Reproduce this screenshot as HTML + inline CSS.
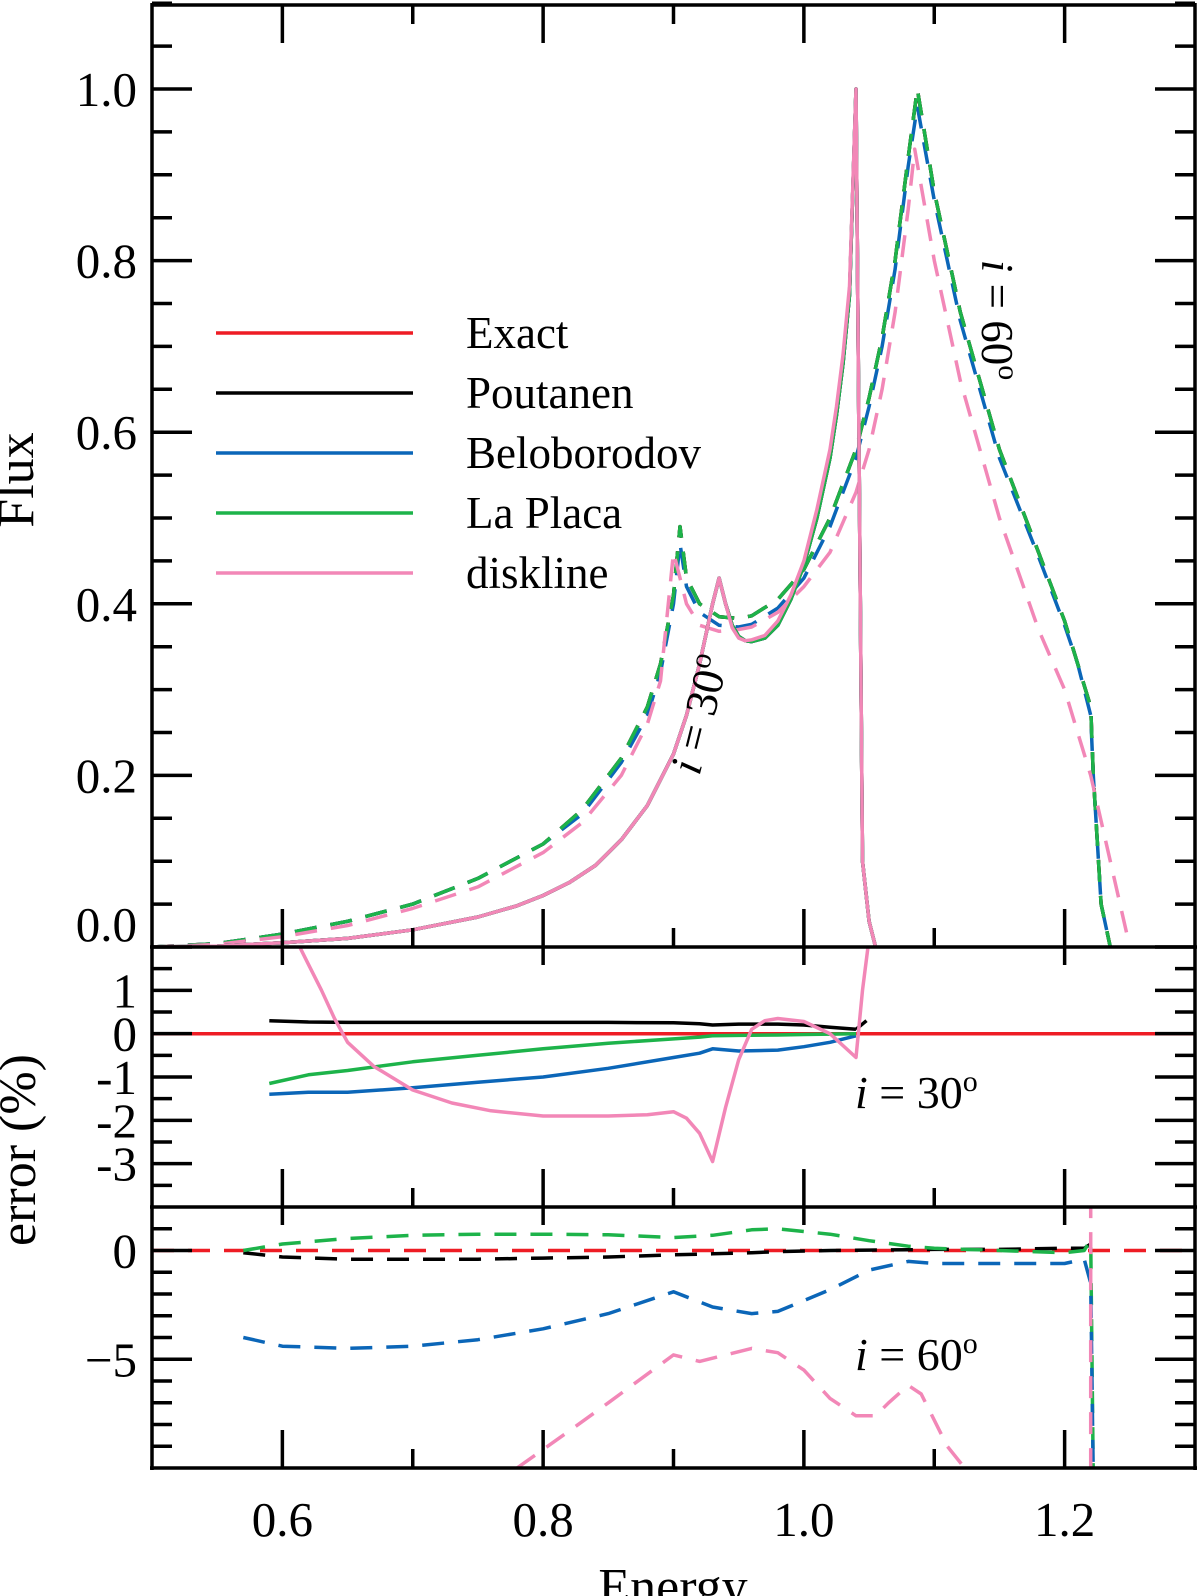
<!DOCTYPE html>
<html><head><meta charset="utf-8"><style>
html,body{margin:0;padding:0;background:#fff;}
svg{display:block;font-family:"Liberation Serif",serif;}
</style></head><body>
<svg id="chart" width="1200" height="1596" viewBox="0 0 1200 1596" xmlns="http://www.w3.org/2000/svg">
<defs>
<clipPath id="c1"><rect x="152" y="5" width="1043" height="942"/></clipPath>
<clipPath id="c2"><rect x="152" y="947" width="1043" height="260"/></clipPath>
<clipPath id="c3"><rect x="152" y="1207" width="1043" height="261"/></clipPath>
</defs>
<g id="marks"></g>
<g id="axes" stroke="#000" stroke-width="3.5" fill="none"></g>
<g id="labels" font-size="49" fill="#000"></g>
<text transform="translate(33,480) rotate(-90)" font-size="52" text-anchor="middle">Flux</text>
<text transform="translate(35,1150) rotate(-90)" font-size="52" text-anchor="middle">error (%)</text>
<text x="673" y="1604" font-size="52" text-anchor="middle">Energy</text>
<g font-size="45">
<line x1="216" y1="333" x2="413" y2="333" stroke="#ee1c24" stroke-width="3.5"/>
<text x="466" y="348">Exact</text>
<line x1="216" y1="393" x2="413" y2="393" stroke="#000" stroke-width="3.5"/>
<text x="466" y="408">Poutanen</text>
<line x1="216" y1="453" x2="413" y2="453" stroke="#0b66b8" stroke-width="3.5"/>
<text x="466" y="468">Beloborodov</text>
<line x1="216" y1="513" x2="413" y2="513" stroke="#1db34a" stroke-width="3.5"/>
<text x="466" y="528">La Placa</text>
<line x1="216" y1="573" x2="413" y2="573" stroke="#f287b7" stroke-width="3.5"/>
<text x="466" y="588">diskline</text>
</g>
<text transform="translate(714,718) rotate(-76)" font-size="45" text-anchor="middle"><tspan font-style="italic">i</tspan> = 30<tspan font-size="30" dy="-17">o</tspan></text>
<text transform="translate(982,320) rotate(90)" font-size="45" text-anchor="middle"><tspan font-style="italic">i</tspan> = 60<tspan font-size="30" dy="-17">o</tspan></text>
<text x="855" y="1108" font-size="46"><tspan font-style="italic">i</tspan> = 30<tspan font-size="30" dy="-17">o</tspan></text>
<text x="855" y="1370" font-size="46"><tspan font-style="italic">i</tspan> = 60<tspan font-size="30" dy="-17">o</tspan></text>
</svg>
<script>
// ---- data ----
const xTicks = [0.6, 0.8, 1.0, 1.2];
const fluxTicks = [0.0, 0.2, 0.4, 0.6, 0.8, 1.0];
const err30Ticks = [1, 0, -1, -2, -3];
const err60Ticks = [0, -5];
// top panel, i=30 (solid)
const f30E = [0.5,0.55,0.6,0.65,0.7,0.75,0.78,0.8,0.82,0.84,0.86,0.88,0.9,0.91,0.92,0.93,0.935,0.94,0.945,0.95,0.955,0.96,0.97,0.98,0.99,1.0,1.01,1.02,1.025,1.03,1.035,1.04,1.045,1.05,1.055];
const f30Exact = [0,0.001,0.005,0.01,0.02,0.035,0.048,0.06,0.075,0.095,0.125,0.165,0.225,0.27,0.33,0.4,0.43,0.4,0.375,0.362,0.357,0.356,0.36,0.375,0.405,0.445,0.5,0.57,0.62,0.68,0.76,1.0,0.1,0.03,0];
const f30Disk = [0,0.001,0.005,0.01,0.02,0.035,0.048,0.06,0.075,0.095,0.125,0.165,0.225,0.27,0.33,0.4,0.43,0.4,0.372,0.36,0.357,0.358,0.363,0.38,0.41,0.45,0.51,0.58,0.63,0.69,0.77,1.0,0.1,0.03,0];
// top panel, i=60 (dashed)
const f60E = [0.5,0.55,0.6,0.65,0.7,0.75,0.8,0.83,0.86,0.88,0.89,0.9,0.905,0.91,0.92,0.935,0.95,0.96,0.98,1.0,1.02,1.04,1.05,1.06,1.07,1.08,1.087,1.1,1.12,1.15,1.18,1.2,1.21,1.22,1.222,1.228,1.235];
const f60Exact = [0,0.004,0.015,0.03,0.05,0.08,0.12,0.16,0.22,0.28,0.33,0.41,0.49,0.43,0.4,0.385,0.383,0.386,0.405,0.44,0.5,0.58,0.64,0.71,0.8,0.92,1.0,0.88,0.74,0.58,0.46,0.38,0.33,0.28,0.2,0.05,0];
const f60Blue = [0,0.004,0.015,0.03,0.05,0.08,0.12,0.155,0.215,0.27,0.32,0.4,0.47,0.42,0.39,0.375,0.373,0.376,0.395,0.43,0.49,0.57,0.63,0.7,0.79,0.91,0.98,0.87,0.73,0.57,0.455,0.375,0.33,0.27,0.2,0.05,0];
const f60DE = [0.5,0.55,0.6,0.65,0.7,0.75,0.8,0.83,0.86,0.88,0.89,0.9,0.91,0.92,0.935,0.95,0.96,0.98,1.0,1.02,1.04,1.05,1.06,1.07,1.08,1.085,1.1,1.12,1.15,1.18,1.2,1.22,1.235,1.25];
const f60Disk = [0,0.003,0.012,0.025,0.045,0.07,0.11,0.145,0.2,0.26,0.31,0.46,0.4,0.375,0.368,0.37,0.373,0.39,0.42,0.46,0.53,0.58,0.65,0.74,0.86,0.93,0.8,0.66,0.5,0.37,0.3,0.2,0.1,0];
// middle panel: error %, i=30
const e30E = [0.59,0.62,0.65,0.7,0.75,0.8,0.85,0.9,0.92,0.93,0.95,0.98,1.0,1.02,1.04];
const e30Pout = [0.3,0.27,0.26,0.26,0.26,0.26,0.26,0.25,0.23,0.2,0.22,0.22,0.2,0.15,0.1];
const e30Belo = [-1.4,-1.35,-1.35,-1.25,-1.12,-1.0,-0.8,-0.55,-0.45,-0.35,-0.4,-0.38,-0.3,-0.2,-0.05];
const e30Lapl = [-1.15,-0.95,-0.85,-0.65,-0.5,-0.35,-0.22,-0.12,-0.08,-0.05,-0.04,-0.03,-0.02,-0.01,0];
const e30DE = [0.61,0.62,0.63,0.64,0.65,0.67,0.7,0.73,0.76,0.8,0.85,0.88,0.9,0.91,0.92,0.93,0.94,0.95,0.96,0.97,0.98,1.0,1.02,1.04,1.045,1.05];
const e30Disk = [2.2,1.6,1.0,0.35,-0.2,-0.75,-1.3,-1.6,-1.78,-1.9,-1.9,-1.87,-1.8,-1.95,-2.3,-2.95,-1.7,-0.6,0.1,0.3,0.35,0.28,0.0,-0.55,1.0,2.2];
const e30PoutTailE = [1.04,1.048];
const e30PoutTail = [0.1,0.3];
// bottom panel: error %, i=60
const e60E = [0.57,0.6,0.65,0.7,0.75,0.8,0.85,0.9,0.93,0.96,0.98,1.02,1.05,1.08,1.1,1.15,1.2,1.215,1.22,1.222];
const e60Pout = [-0.1,-0.3,-0.4,-0.4,-0.4,-0.35,-0.3,-0.2,-0.15,-0.1,-0.05,0,0.02,0.03,0.05,0.05,0.1,0.1,0.3,0.3];
const e60Lapl = [0,0.3,0.55,0.7,0.75,0.75,0.72,0.6,0.7,0.95,1.0,0.75,0.45,0.2,0.1,0.0,-0.1,0.0,0.5,-10.5];
const e60Belo = [-4.0,-4.4,-4.5,-4.4,-4.1,-3.6,-2.9,-1.9,-2.6,-2.9,-2.8,-1.8,-0.9,-0.5,-0.6,-0.6,-0.6,-0.4,-1.5,-10.5];
const e60DE = [0.78,0.82,0.85,0.9,0.92,0.96,0.98,1.0,1.02,1.04,1.055,1.065,1.08,1.09,1.11,1.13];
const e60Disk = [-10,-8.3,-7.0,-4.8,-5.1,-4.5,-4.7,-5.5,-6.8,-7.6,-7.6,-7.0,-6.2,-6.6,-9.0,-10.5];
const e60DiskSpikeE = [1.22,1.22];
const e60DiskSpike = [2.5,-10.5];
const exactErrE = [0.5,1.3];
const exactErr = [0,0];

// ---- scales ----
const X0=152, X1=1195;
const sx = v => X0 + (v-0.5)/(0.8)*(X1-X0);
const syF = v => 947 - v*858;
const syM = v => 947 + (2-v)*(260/6);
const syB = v => 1207 + (2-v)*(261/12);

const NS="http://www.w3.org/2000/svg";
const marks=document.getElementById('marks');
const C={red:'#ee1c24',black:'#000',blue:'#0b66b8',green:'#1db34a',pink:'#f287b7'};
function series(xs, ys, sy, color, dashed, clip, name, off){
  const p=document.createElementNS(NS,'path');
  let d='';
  for(let i=0;i<xs.length;i++){ d += (i?'L':'M') + sx(xs[i]).toFixed(1)+','+(sy(ys[i])+(off||0)).toFixed(1); }
  p.setAttribute('d',d);
  p.setAttribute('fill','none');
  p.setAttribute('stroke',color);
  p.setAttribute('stroke-width','3.5');
  p.setAttribute('stroke-linejoin','round');
  if(dashed) p.setAttribute('stroke-dasharray','22 14');
  p.setAttribute('clip-path','url(#'+clip+')');
  
  
  marks.appendChild(p);
}
// top panel
series(f60E,f60Exact,syF,C.red,true,'c1','flux-i60-exact');
series(f60E,f60Exact,syF,C.black,true,'c1','flux-i60-poutanen');
series(f60E,f60Blue,syF,C.blue,true,'c1','flux-i60-beloborodov');
series(f60E,f60Exact,syF,C.green,true,'c1','flux-i60-laplaca');
series(f60DE,f60Disk,syF,C.pink,true,'c1','flux-i60-diskline');
series(f30E,f30Exact,syF,C.red,false,'c1','flux-i30-exact');
series(f30E,f30Exact,syF,C.black,false,'c1','flux-i30-poutanen');
series(f30E,f30Exact,syF,C.blue,false,'c1','flux-i30-beloborodov');
series(f30E,f30Exact,syF,C.green,false,'c1','flux-i30-laplaca');
series(f30E,f30Disk,syF,C.pink,false,'c1','flux-i30-diskline');
// middle
series(exactErrE,exactErr,syM,C.red,false,'c2','error-i30-exact');
series(e30E,e30Pout,syM,C.black,false,'c2','error-i30-poutanen');
series(e30PoutTailE,e30PoutTail,syM,C.black,false,'c2','error-i30-poutanen-tail');
series(e30E,e30Belo,syM,C.blue,false,'c2','error-i30-beloborodov');
series(e30E,e30Lapl,syM,C.green,false,'c2','error-i30-laplaca');
series(e30DE,e30Disk,syM,C.pink,false,'c2','error-i30-diskline');
// bottom
series(exactErrE,exactErr,syB,C.red,true,'c3','error-i60-exact');
series(e60E,e60Pout,syB,C.black,true,'c3','error-i60-poutanen');
series(e60E,e60Lapl,syB,C.green,true,'c3','error-i60-laplaca');
series(e60E,e60Belo,syB,C.blue,true,'c3','error-i60-beloborodov');
series(e60DE,e60Disk,syB,C.pink,true,'c3','error-i60-diskline');
series(e60DiskSpikeE,e60DiskSpike,syB,C.pink,true,'c3','error-i60-diskline-spike');

// ---- axes ----
const ax=document.getElementById('axes');
const lab=document.getElementById('labels');
function ln(x1,y1,x2,y2,name){
  const l=document.createElementNS(NS,'line');
  l.setAttribute('x1',x1);l.setAttribute('y1',y1);l.setAttribute('x2',x2);l.setAttribute('y2',y2);
  
  
  ax.appendChild(l);
}
function tx(x,y,s,anchor,name){
  const t=document.createElementNS(NS,'text');
  t.setAttribute('x',x);t.setAttribute('y',y);t.setAttribute('text-anchor',anchor);
  t.textContent=s;
  
  
  lab.appendChild(t);
}
// frames
ln(152,5,1195,5,'frame-top');
ln(152,3,152,1470,'frame-left');
ln(1195,3,1195,1470,'frame-right');
ln(150,947,1197,947,'panel-divider-1');
ln(150,1207,1197,1207,'panel-divider-2');
ln(150,1468,1197,1468,'frame-bottom');
const xMinor=[0.6,0.7,0.8,0.9,1.0,1.1,1.2];
xMinor.forEach(v=>{
  const x=sx(v); const major=xTicks.some(t=>Math.abs(t-v)<1e-6);
  const L=major?38:19;
  ln(x,5,x,5+L,'x-tick-top');
  ln(x,947-L,x,947+(major?18:0),'x-tick-panel1');
  ln(x,1207-L,x,1207+(major?18:0),'x-tick-panel2');
  ln(x,1468-L,x,1468,'x-tick-bottom');
});
xTicks.forEach(v=>tx(sx(v),1536,v.toFixed(1),'middle','x-tick-label'));
for(let v=0; v<=1.1001; v+=0.05){
  const y=syF(v); const major=Math.abs(v*5-Math.round(v*5))<1e-6;
  ln(152,y,152+(major?40:20),y,'flux-y-tick');
  ln(1195-(major?40:20),y,1195,y,'flux-y-tick-right');
}
fluxTicks.forEach(v=>tx(137, v===0?syF(v)-6:syF(v)+17, v.toFixed(1),'end','flux-tick-label'));
for(let v=-4; v<=2; v+=0.5){
  const y=syM(v); const major=Number.isInteger(v);
  if(y<=948||y>=1206) continue;
  ln(152,y,152+(major?40:20),y,'error30-y-tick');
  ln(1195-(major?40:20),y,1195,y,'error30-y-tick-right');
}
err30Ticks.forEach(v=>tx(137, syM(v)+17, v===0?'0':String(v),'end','error30-tick-label'));
for(let v=-10; v<=2; v+=1){
  const y=syB(v); const major=(v%5===0);
  if(y<=1208||y>=1467) continue;
  ln(152,y,152+(major?40:20),y,'error60-y-tick');
  ln(1195-(major?40:20),y,1195,y,'error60-y-tick-right');
}
err60Ticks.forEach(v=>tx(137, syB(v)+17, v===0?'0':'\u22125','end','error60-tick-label'));
</script>
</body></html>
